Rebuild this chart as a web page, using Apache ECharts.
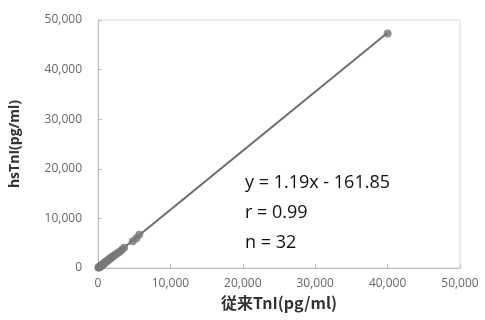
<!DOCTYPE html>
<html>
<head>
<meta charset="utf-8">
<script src="https://cdn.jsdelivr.net/npm/echarts@6/dist/echarts.min.js"></script>
<style>
html,body{margin:0;padding:0;background:#fff;}
#main{width:485px;height:320px;}
</style>
</head>
<body>
<div id="main"></div>
<script>
// measured points (conventional TnI vs hsTnI)
var oldTnI = [60, 120, 180, 230, 300, 350, 420, 480, 550, 620, 700, 780, 860, 950, 1050, 1150, 1250, 1400, 1550, 1700, 1850, 2000, 2200, 2450, 2700, 3000, 3300, 3600, 4800, 5300, 5700, 40000];
var hsTnI  = [80, 100, 200, 180, 260, 380, 420, 500, 560, 700, 760, 820, 980, 1050, 1200, 1300, 1400, 1550, 1800, 1900, 2100, 2250, 2500, 2700, 3000, 3300, 3700, 4100, 5400, 6000, 6700, 47300];
var fitSlope = 1.19;
var fitIntercept = -161.85;
var fitX = [0, 40000];
var statLines = ['y = 1.19x - 161.85', 'r = 0.99', 'n = 32'];
var tickMax = 50000;
var tickStep = 10000;

var pts = [];
for (var i = 0; i < oldTnI.length; i++) {
  pts.push([oldTnI[i], hsTnI[i]]);
}
var fitPts = [];
for (var j = 0; j < fitX.length; j++) {
  fitPts.push([fitX[j], fitSlope * fitX[j] + fitIntercept]);
}

var myChart = echarts.init(document.getElementById('main'));
var lblStyle = {color: '#666', fontSize: 12, fontFamily: 'Open Sans'};

var option = {
  animation: false,
  grid: {left: 98, right: 25, top: 20, bottom: 52, outerBoundsMode: 'none', show: true, borderColor: '#d9d9d9', borderWidth: 1},
  xAxis: {
    type: 'value', min: 0, max: tickMax, interval: tickStep,
    name: '従来TnI(pg/ml)', nameLocation: 'middle', nameGap: 22,
    nameTextStyle: {fontSize: 16, fontWeight: 'bold', color: '#333', fontFamily: 'Noto Sans CJK JP'},
    axisLine: {lineStyle: {color: '#bfbfbf'}},
    axisTick: {inside: true, length: 4, lineStyle: {color: '#bfbfbf'}},
    splitLine: {show: false},
    axisLabel: Object.assign({margin: 10, formatter: function(v){return v.toLocaleString('en-US');}}, lblStyle)
  },
  yAxis: {
    type: 'value', min: 0, max: tickMax, interval: tickStep,
    name: 'hsTnI(pg/ml)', nameLocation: 'middle', nameGap: 76,
    nameTextStyle: {fontSize: 14, fontWeight: 'bold', color: '#333', fontFamily: 'Open Sans'},
    axisLine: {show: true, lineStyle: {color: '#bfbfbf'}},
    axisTick: {show: true, inside: true, length: 4, lineStyle: {color: '#bfbfbf'}},
    splitLine: {show: false},
    axisLabel: Object.assign({margin: 16, formatter: function(v){return v.toLocaleString('en-US');}}, lblStyle)
  },
  series: [
    {
      type: 'line', data: fitPts, symbol: 'none', z: 2,
      lineStyle: {color: '#6e6e6e', width: 2}
    },
    {
      type: 'scatter', data: pts, symbolSize: 8, z: 3,
      itemStyle: {color: '#777'}
    }
  ],
  graphic: [
    {
      type: 'text', left: 245, top: 168,
      style: {text: statLines.join('\n'), fontSize: 18, lineHeight: 30, fill: '#111', fontFamily: 'Open Sans'}
    }
  ]
};
myChart.setOption(option);
</script>
</body>
</html>
